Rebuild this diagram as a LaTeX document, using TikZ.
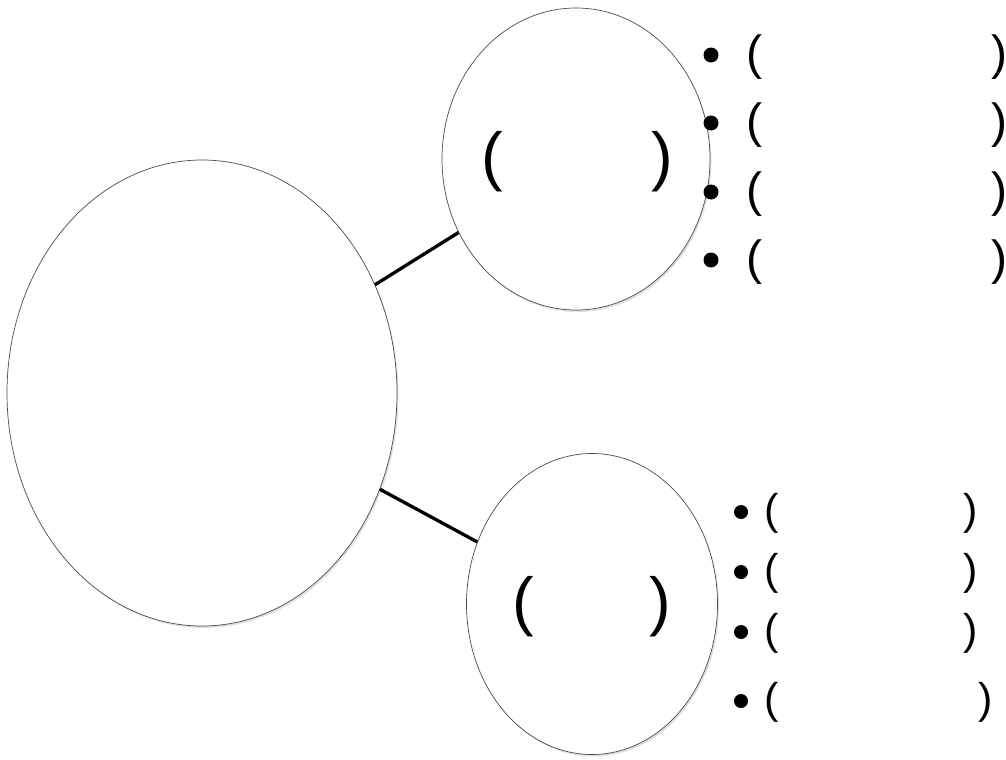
\documentclass[tikz,border=0pt]{standalone}
\usepackage{fontspec}
\setmainfont{Liberation Sans}
\usetikzlibrary{shapes.geometric,shadows}
\begin{document}
\begin{tikzpicture}[x=1bp,y=-1bp,
  bubble/.style={ellipse, draw=black!70, line width=0.7bp, fill=white, inner sep=0pt,
    drop shadow={fill=black!15, shadow xshift=1.5bp, shadow yshift=-2bp, opacity=0.8}},
  link/.style={line width=3.3bp, black},
  dotmark/.style={circle, fill=black, inner sep=0pt, minimum size=15bp},
  bigparen/.style={inner sep=0pt, font=\fontsize{65bp}{65bp}\selectfont},
  midparen/.style={inner sep=0pt, font=\fontsize{48bp}{48bp}\selectfont},
  smallparen/.style={inner sep=0pt, font=\fontsize{43bp}{43bp}\selectfont}]
\useasboundingbox (0,0) rectangle (1006,760);
\fill[white] (0,0) rectangle (1006,760);

\node[bubble, minimum width=390bp, minimum height=466bp] (main) at (202,393) {};
\node[bubble, minimum width=268bp, minimum height=302bp] (top) at (576,159) {};
\node[bubble, minimum width=251bp, minimum height=301bp] (bot) at (592,604) {};

\draw[link] (main) -- (top);
\draw[link] (main) -- (bot);

% parens inside bubbles
\node[bigparen] (tl) at (492,162) {(};
\node[bigparen] (tr) at (662,162) {)};
\node[bigparen] (bl) at (523,607) {(};
\node[bigparen] (br) at (660,607) {)};

% top list
\foreach \i/\y in {1/57,2/125,3/194,4/262}{
  \node[dotmark] (td\i) at (711,\y-2) {};
  \node[midparen] (tpl\i) at (754,\y) {(};
  \node[midparen] (tpr\i) at (999,\y) {)};
}

% bottom list
\foreach \i/\y/\r in {1/513/971,2/573/971,3/633/971,4/702/986}{
  \node[dotmark, minimum size=14bp] (bd\i) at (741,\y-1) {};
  \node[smallparen] (bpl\i) at (772,\y) {(};
  \node[smallparen] (bpr\i) at (\r,\y) {)};
}
\end{tikzpicture}
\end{document}
